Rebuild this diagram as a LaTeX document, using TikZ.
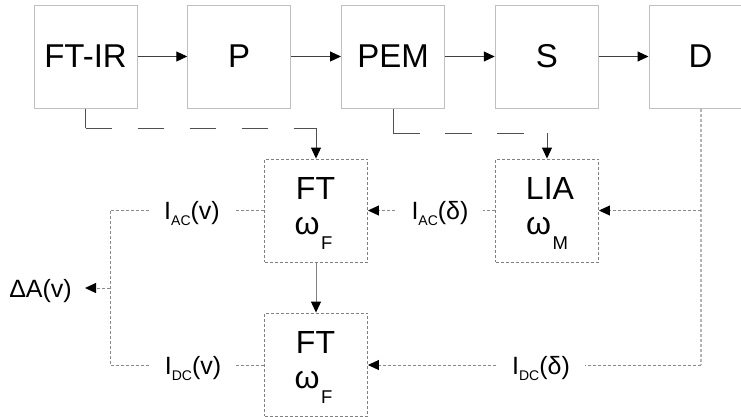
\documentclass[tikz,border=0pt]{standalone}
\usepackage{fontspec}
\setmainfont{Liberation Sans}
\usetikzlibrary{arrows.meta}
\definecolor{topgray}{HTML}{C0C0C0}
\definecolor{flowgray}{HTML}{404040}
\definecolor{refgray}{HTML}{505050}
\definecolor{dotgray}{HTML}{8A8A8A}
\definecolor{lowgray}{HTML}{808080}
\definecolor{dgray}{HTML}{B4B4B4}
\newcommand\lowsub[1]{\raisebox{-6pt}{\fontsize{14}{14}\selectfont #1}}
\newcommand\boxsub[1]{\kern1.5pt\raisebox{-15pt}{\fontsize{18.5}{19}\selectfont #1}}
\begin{document}
\begin{tikzpicture}[x=1pt,y=-1pt,
  topbox/.style={draw=topgray, line width=1pt, minimum width=103pt, minimum height=103pt, inner sep=0pt, font=\fontsize{33}{38}\selectfont},
  lowbox/.style={draw=lowgray, line width=0.9pt, dash pattern=on 3pt off 2pt, minimum width=103pt, minimum height=103pt, inner sep=0pt},
  boxtext/.style={font=\fontsize{32}{38}\selectfont, inner sep=0pt, anchor=base},
  sigtext/.style={font=\fontsize{25}{30}\selectfont, fill=white, inner xsep=15pt, inner ysep=1pt, anchor=base},
  tip/.style={-{Triangle[length=11pt,width=10pt,color=black]}},
  flow/.style={draw=flowgray, line width=1pt, tip},
  refline/.style={draw=refgray, line width=1pt},
  dotline/.style={draw=dotgray, line width=1pt, dash pattern=on 3pt off 2pt},
  dvert/.style={draw=dgray, line width=2pt, dash pattern=on 3pt off 2pt}
]
\useasboundingbox (0,0) rectangle (741,416);
% top row
\node[topbox] (ftir) at (85.5,56.5) {FT-IR};
\node[topbox] (p) at (239.25,56.5) {P};
\node[topbox] (pem) at (393,56.5) {PEM};
\node[topbox] (s) at (546.75,56.5) {S};
\node[topbox] (d) at (700.5,56.5) {D};
\draw[flow] (ftir) -- (p);
\draw[flow] (p) -- (pem);
\draw[flow] (pem) -- (s);
\draw[flow] (s) -- (d);
% lower boxes
\node[lowbox] (ft1) at (316,210.5) {};
\node[lowbox] (lia) at (547,210.5) {};
\node[lowbox] (ft2) at (316,364.5) {};
\node[boxtext] (ft1a) at (315.5,199) {FT};
\node[boxtext] (ft1b) at (313.5,234.5) {ω\boxsub{F}};
\node[boxtext] (liaa) at (550,199.5) {LIA};
\node[boxtext] (liab) at (547,234.5) {ω\boxsub{M}};
\node[boxtext] (ft2a) at (315.5,353) {FT};
\node[boxtext] (ft2b) at (313.5,388.5) {ω\boxsub{F}};
% reference (dashed) lines
\coordinate (r1) at (85.5,128);
\coordinate (r2) at (393,133);
\draw[refline] (ftir.south) -- (r1);
\draw[refline, dash pattern=on 26pt off 26pt] (r1) -- (r1 -| ft1.north);
\draw[refline, tip] (r1 -| ft1.north) -- (ft1.north);
\draw[refline] (pem.south) -- (r2);
\draw[refline, dash pattern=on 27pt off 25pt] (r2) -- (r2 -| lia.north);
\draw[refline, tip] (r2 -| lia.north) -- (lia.north);
% FT1 -> FT2
\draw[draw=lowgray, line width=1pt, tip] (ft1) -- (ft2);
% detector branches
\coordinate (dj) at (d.south |- lia.east);
\coordinate (dc) at (700.5,365);
\draw[dvert] (d.south) -- (dc);
\draw[dotline, tip] (dj) -- (lia.east);
\draw[dotline, tip] (dc) -- (ft2.east |- dc);
\draw[dotline, tip] (lia.west) -- (ft1.east);
% output side
\coordinate (lt) at (110,210.5);
\coordinate (lb) at (110,365);
\coordinate (tap) at (110,288);
\coordinate (dAtip) at (85,288);
\draw[dotline] (ft1.west) -- (lt) -- (lb) -- (ft2.west |- lb);
\draw[dotline, tip] (tap) -- (dAtip);
% labels
\node[sigtext] (iacv) at (192,219.5) {I\lowsub{AC}(v)};
\node[sigtext] (iacd) at (440,219.5) {I\lowsub{AC}(δ)};
\node[sigtext] (idcv) at (193,374) {I\lowsub{DC}(v)};
\node[sigtext] (idcd) at (541,374) {I\lowsub{DC}(δ)};
\node[font=\fontsize{25}{30}\selectfont, inner sep=0pt, anchor=base east] (dA) at (72,297) {ΔA(v)};
\end{tikzpicture}
\end{document}
